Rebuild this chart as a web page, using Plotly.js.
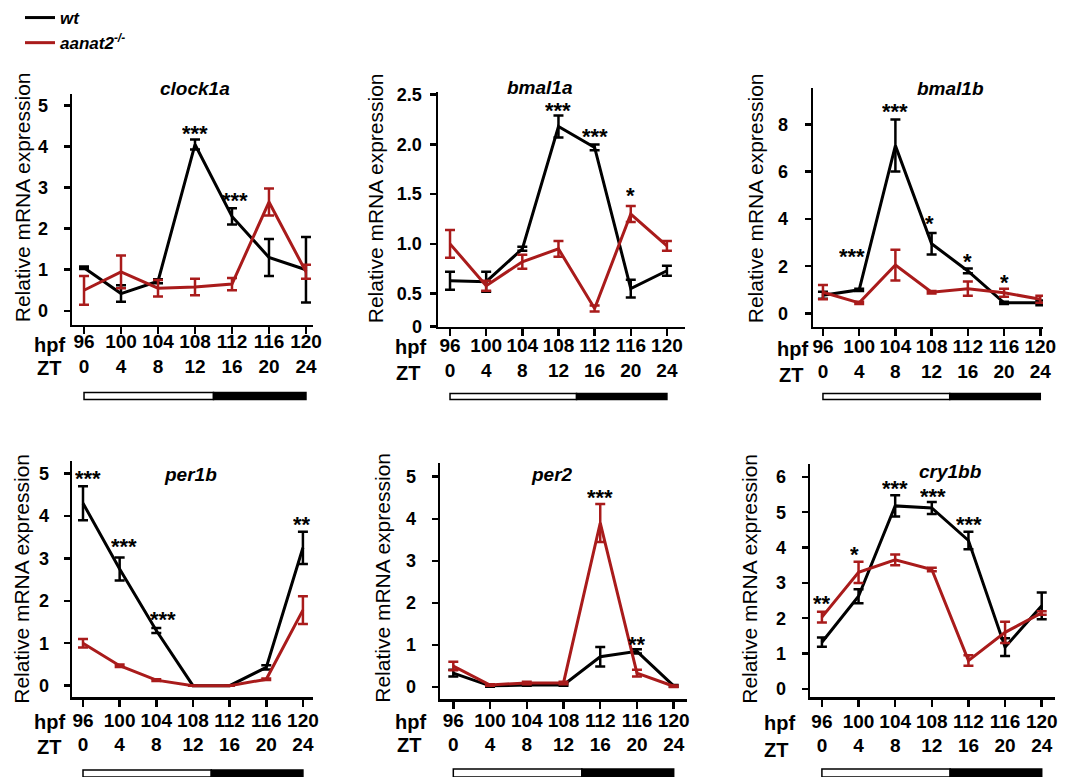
<!DOCTYPE html>
<html><head><meta charset="utf-8">
<script src="https://cdn.plot.ly/plotly-3.0.1.min.js"></script>
<style>html,body{margin:0;padding:0;background:#fff}#chart{width:1073px;height:777px}</style>
</head><body><div id="chart"></div>
<script>
// ---------- data ----------
const hpf = [96,100,104,108,112,116,120];
const zt = [0,4,8,12,16,20,24];
const genes = ['clock1a','bmal1a','bmal1b','per1b','per2','cry1bb'];
const seriesNames = ['wt','aanat2<sup>-/-</sup>'];

const clock1aWt = [1.05,0.42,0.72,4.05,2.3,1.3,1.0];
const clock1aWtErr = [0.03,0.2,0.05,0.12,0.2,0.45,0.8];
const clock1aMut = [0.5,0.95,0.55,0.58,0.65,2.65,0.95];
const clock1aMutErr = [0.35,0.4,0.2,0.2,0.15,0.33,0.17];

const bmal1aWt = [0.63,0.62,0.95,2.18,1.97,0.55,0.73];
const bmal1aWtErr = [0.09,0.1,0.02,0.11,0.03,0.09,0.05];
const bmal1aMut = [1.0,0.58,0.82,0.95,0.35,1.3,0.98];
const bmal1aMutErr = [0.14,0.05,0.07,0.08,0.03,0.08,0.05];

const bmal1bWt = [0.77,1.0,7.1,2.95,1.8,0.45,0.45];
const bmal1bWtErr = [0.15,0.05,1.1,0.45,0.1,0.05,0.1];
const bmal1bMut = [0.9,0.45,2.05,0.9,1.05,0.88,0.6];
const bmal1bMutErr = [0.3,0.05,0.65,0.05,0.3,0.17,0.15];

const per1bWt = [4.3,2.75,1.3,0,0,0.43,3.25];
const per1bWtErr = [0.4,0.27,0.06,0,0,0.05,0.38];
const per1bMut = [1.0,0.47,0.13,0,0,0.15,1.78];
const per1bMutErr = [0.1,0.03,0.02,0,0,0.02,0.33];

const per2Wt = [0.33,0.03,0.05,0.05,0.72,0.85,0.03];
const per2WtErr = [0.08,0.02,0.02,0.02,0.23,0.05,0.02];
const per2Mut = [0.5,0.05,0.1,0.1,3.9,0.33,0.02];
const per2MutErr = [0.1,0.02,0.03,0.03,0.45,0.08,0.02];

const cry1bbWt = [1.32,2.62,5.18,5.12,4.2,1.18,2.35];
const cry1bbWtErr = [0.13,0.2,0.3,0.17,0.25,0.25,0.38];
const cry1bbMut = [2.03,3.3,3.65,3.38,0.8,1.6,2.15];
const cry1bbMutErr = [0.15,0.3,0.15,0.05,0.15,0.3,0.05];

// significance marks
const clock1aStarX = [108,112.3];
const clock1aStarY = [4.47,2.82];
const clock1aStarText = ['***','***'];
const bmal1aStarX = [108,112,116];
const bmal1aStarY = [2.40,2.14,1.55];
const bmal1aStarText = ['***','***','*'];
const bmal1bStarX = [99.2,104,107.8,112,116];
const bmal1bStarY = [2.68,8.79,4.07,2.47,1.55];
const bmal1bStarText = ['***','***','*','*','*'];
const per1bStarX = [96.5,100.5,104.7,119.9];
const per1bStarY = [5.02,3.41,1.69,3.93];
const per1bStarText = ['***','***','***','**'];
const per2StarX = [112,116];
const per2StarY = [4.65,1.15];
const per2StarText = ['***','**'];
const cry1bbStarX = [96,99.6,104,108.1,112.1];
const cry1bbStarY = [2.59,3.96,5.84,5.6,4.81];
const cry1bbStarText = ['**','*','***','***','***'];

const lightOffHpf = 110; // ZT14

// ---------- layout ----------
const W = 1073, H = 777;
const BLACK = '#000000', RED = '#a91b1b';
const FONT = 'Liberation Sans, Arial, sans-serif';

const panels = [
  {wt:clock1aWt, wtE:clock1aWtErr, mu:clock1aMut, muE:clock1aMutErr, sx:clock1aStarX, sy:clock1aStarY, st:clock1aStarText,
   box:[72,313,91,323], xr:[94.7,120.76], yr:[-0.34,5.29], tv:[0,1,2,3,4,5], tt:null, ysd:12, xsd:-9,
   title:[195,85], ytitle:[22,195], hpf:[67,343], zt:[63,366], bar:[391,398]},
  {wt:bmal1aWt, wtE:bmal1aWtErr, mu:bmal1aMut, muE:bmal1aMutErr, sx:bmal1aStarX, sy:bmal1aStarY, st:bmal1aStarText,
   box:[438,685,89,325], xr:[94.67,122], yr:[0.167,2.53], tv:[0.167,0.5,1,1.5,2,2.5], tt:['0','0.5','1.0','1.5','2.0','2.5'], ysd:4, xsd:-7,
   title:[540,84], ytitle:[375,196], hpf:[428,345], zt:[422,371], bar:[392,398]},
  {wt:bmal1bWt, wtE:bmal1bWtErr, mu:bmal1bMut, muE:bmal1bMutErr, sx:bmal1bStarX, sy:bmal1bStarY, st:bmal1bStarText,
   box:[813,1043,85,325], xr:[94.9,120.3], yr:[-0.56,9.55], tv:[0,2,4,6,8], tt:null, ysd:13, xsd:-6,
   title:[950,85], ytitle:[755,196], hpf:[810,347], zt:[805,373], bar:[392,398]},
  {wt:per1bWt, wtE:per1bWtErr, mu:per1bMut, muE:per1bMutErr, sx:per1bStarX, sy:per1bStarY, st:per1bStarText,
   box:[72,313,460,697], xr:[94.8,121.1], yr:[-0.275,5.29], tv:[0,1,2,3,4,5], tt:null, ysd:11, xsd:-3,
   title:[190,473], ytitle:[22,578], hpf:[67,722], zt:[63,747], bar:[770,777]},
  {wt:per2Wt, wtE:per2WtErr, mu:per2Mut, muE:per2MutErr, sx:per2StarX, sy:per2StarY, st:per2StarText,
   box:[440,687,462,699], xr:[94.55,121.45], yr:[-0.29,5.32], tv:[0,1,2,3,4,5], tt:null, ysd:12, xsd:-5,
   title:[552,473], ytitle:[383,577], hpf:[428,722], zt:[423,745], bar:[769,777]},
  {wt:cry1bbWt, wtE:cry1bbWtErr, mu:cry1bbMut, muE:cry1bbMutErr, sx:cry1bbStarX, sy:cry1bbStarY, st:cry1bbStarText,
   box:[810,1055,463,697], xr:[94.7,121.45], yr:[-0.24,6.36], tv:[0,1,2,3,4,5,6], tt:null, ysd:12, xsd:-2,
   title:[950,470], ytitle:[750,578], hpf:[797,723], zt:[790,750], bar:[769,777]}
];

const px = x => x / W;
const py = y => 1 - y / H;

const data = [];
const layout = {
  width: W, height: H,
  margin: {l:0, r:0, t:0, b:0},
  paper_bgcolor: '#fff', plot_bgcolor: '#fff',
  font: {family: FONT, color: '#000'},
  showlegend: true,
  legend: {x: px(20), y: py(-3), xanchor: 'left', yanchor: 'top', bgcolor: 'rgba(0,0,0,0)',
           font: {family: FONT, size: 17, weight: 'bold', style: 'italic', color: '#000'},
           tracegroupgap: 0, itemwidth: 30},
  annotations: [], shapes: []
};

const tickText = hpf.map((h, i) => h + '<br>' + zt[i]);

const STAR_FS = 22, TITLE_FS = 19;

panels.forEach((p, i) => {
  const n = i === 0 ? '' : String(i + 1);
  const xa = 'x' + n, ya = 'y' + n;
  const [l, r, t, b] = p.box;
  layout['xaxis' + n] = {
    domain: [px(l), px(r)], anchor: ya, range: p.xr, fixedrange: true,
    showline: true, linewidth: 2.5, linecolor: BLACK, showgrid: false, zeroline: false,
    ticks: 'outside', ticklen: 7, tickwidth: 2.5, tickcolor: BLACK,
    tickvals: hpf, ticktext: tickText, ticklabelstandoff: p.xsd,
    tickfont: {family: FONT, size: 19, weight: 'bold', color: '#000'}
  };
  layout['yaxis' + n] = {
    domain: [py(b), py(t)], anchor: xa, range: p.yr, fixedrange: true,
    showline: true, linewidth: 2.5, linecolor: BLACK, showgrid: false, zeroline: false,
    ticks: 'outside', ticklen: 6, tickwidth: 2.5, tickcolor: BLACK,
    tickvals: p.tv, ticktext: p.tt || p.tv.map(String), ticklabelstandoff: p.ysd,
    tickfont: {family: FONT, size: 18, weight: 'bold', color: '#000'}
  };
  data.push({
    x: hpf, y: p.wt, xaxis: xa, yaxis: ya, type: 'scatter', mode: 'lines',
    name: seriesNames[0], legendgroup: 'wt', showlegend: i === 0,
    line: {color: BLACK, width: 3},
    error_y: {type: 'data', array: p.wtE, visible: true, color: BLACK, thickness: 2.5, width: 5},
    cliponaxis: false
  });
  data.push({
    x: hpf, y: p.mu, xaxis: xa, yaxis: ya, type: 'scatter', mode: 'lines',
    name: seriesNames[1], legendgroup: 'mut', showlegend: i === 0,
    line: {color: RED, width: 3},
    error_y: {type: 'data', array: p.muE, visible: true, color: RED, thickness: 2.5, width: 5},
    cliponaxis: false
  });
  // significance stars: box trimmed to the asterisk glyphs (which sit high in the line box)
  p.sx.forEach((sx, k) => {
    layout.annotations.push({
      xref: xa, yref: ya, x: sx, y: p.sy[k], text: p.st[k], showarrow: false,
      yanchor: 'top', valign: 'top', height: 13, yshift: 0.39 * STAR_FS,
      font: {family: FONT, size: STAR_FS, weight: 'bold', color: '#000'}
    });
  });
  // panel title
  layout.annotations.push({
    xref: 'paper', yref: 'paper', x: px(p.title[0]), y: py(p.title[1]), text: genes[i],
    showarrow: false, xanchor: 'center', yanchor: 'middle', valign: 'middle', height: 22,
    font: {family: FONT, size: TITLE_FS, weight: 'bold', style: 'italic', color: '#000'}
  });
  // y axis title
  layout.annotations.push({
    xref: 'paper', yref: 'paper', x: px(p.ytitle[0]), y: py(p.ytitle[1]), text: 'Relative mRNA expression',
    showarrow: false, textangle: -90, xanchor: 'center', yanchor: 'middle',
    font: {family: FONT, size: 21, color: '#000'}
  });
  // hpf / ZT row labels
  layout.annotations.push({
    xref: 'paper', yref: 'paper', x: px(p.hpf[0]), y: py(p.hpf[1]), text: 'hpf',
    showarrow: false, xanchor: 'right', yanchor: 'middle',
    font: {family: FONT, size: 20, weight: 'bold', color: '#000'}
  });
  layout.annotations.push({
    xref: 'paper', yref: 'paper', x: px(p.zt[0]), y: py(p.zt[1]), text: 'ZT',
    showarrow: false, xanchor: 'right', yanchor: 'middle',
    font: {family: FONT, size: 20, weight: 'bold', color: '#000'}
  });
  // light / dark bar
  layout.shapes.push({
    type: 'rect', xref: xa, yref: 'paper', x0: hpf[0], x1: lightOffHpf,
    y0: py(p.bar[1]), y1: py(p.bar[0]), fillcolor: '#fff', line: {color: BLACK, width: 1.5}
  });
  layout.shapes.push({
    type: 'rect', xref: xa, yref: 'paper', x0: lightOffHpf, x1: hpf[hpf.length - 1],
    y0: py(p.bar[1]), y1: py(p.bar[0]), fillcolor: BLACK, line: {color: BLACK, width: 1.5}
  });
});

Plotly.newPlot('chart', data, layout, {staticPlot: true, displayModeBar: false});
</script>
</body></html>
